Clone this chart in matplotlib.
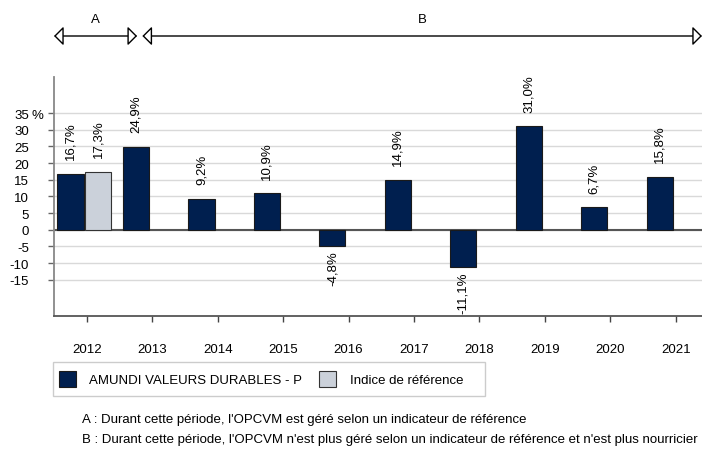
import matplotlib
matplotlib.use("Agg")
import matplotlib.pyplot as plt
from matplotlib import transforms
from matplotlib.patches import FancyArrowPatch, Rectangle, ArrowStyle
import numpy as np

# data
years = ["2012", "2013", "2014", "2015", "2016", "2017", "2018", "2019", "2020", "2021"]
fund = [16.7, 24.9, 9.2, 10.9, -4.8, 14.9, -11.1, 31.0, 6.7, 15.8]
bench = [17.3, None, None, None, None, None, None, None, None, None]
fund_name = "AMUNDI VALEURS DURABLES - P"
bench_name = "Indice de référence"
yticks = [-15, -10, -5, 0, 5, 10, 15, 20, 25, 30, 35]
periods = [("A", 0, 0), ("B", 1, 9)]
notes = [
    "A : Durant cette période, l'OPCVM est géré selon un indicateur de référence",
    "B : Durant cette période, l'OPCVM n'est plus géré selon un indicateur de référence et n'est plus nourricier",
]

DARK = "#001f4f"
LIGHT = "#cbd1da"
FS = 9.5
W, H = 702, 452

plt.rcParams["font.family"] = ["Liberation Sans", "DejaVu Sans"]
fig = plt.figure(figsize=(W / 100, H / 100), dpi=100)


def fx(x):
    return x / W


def fy(y):
    return 1 - y / H


ax = fig.add_axes([fx(54), fy(316.7), fx(W - 54), (316.7 - 78) / H])
x = np.arange(len(years))
xmin, xmax = -0.5, len(years) - 0.6

# bars
ax.bar(x - 0.247, fund, width=0.40, color=DARK, edgecolor="#1a1a1a", linewidth=0.8, zorder=3)
bx = [i for i, v in enumerate(bench) if v is not None]
bv = [v for v in bench if v is not None]
ax.bar(np.array(bx) + 0.177, bv, width=0.40, color=LIGHT, edgecolor="#333333", linewidth=0.8, zorder=3)


def fmt(v):
    return f"{v:.1f}%".replace(".", ",")


for xs, vals in [(x - 0.247, fund), (np.array(bx) + 0.177, bv)]:
    for xi, v in zip(xs, vals):
        if v >= 0:
            ax.annotate(fmt(v), (xi, v), xytext=(0, 10.5), textcoords="offset points",
                        rotation=90, ha="center", va="bottom", fontsize=FS)
        else:
            ax.annotate(fmt(v), (xi, v), xytext=(0, -3.6), textcoords="offset points",
                        rotation=90, ha="center", va="top", fontsize=FS)

ax.set_xlim(xmin, xmax)
ax.set_ylim(-25.8, 45.8)
ax.set_yticks(yticks)
ax.set_yticklabels([str(t) for t in yticks], fontsize=FS)
ax.set_xticks(x)
ax.set_xticklabels(years, fontsize=FS)
ax.tick_params(axis="y", direction="out", length=4.3, width=1, color="#666666", pad=13.7)
ax.tick_params(axis="x", direction="out", length=4.3, width=1, color="#444444", pad=15)
ax.annotate("%", xy=(0, 35), xycoords=("axes fraction", "data"), xytext=(-7.7, 0),
            textcoords="offset points", ha="right", va="center_baseline", fontsize=FS)

ax.yaxis.grid(True, color="#d9d9d9", linewidth=1, zorder=0)
ax.set_axisbelow(True)
ax.axhline(0, color="#555555", linewidth=1.5, zorder=2)
for s in ["top", "right"]:
    ax.spines[s].set_visible(False)
ax.spines["left"].set_color("#888888")
ax.spines["left"].set_linewidth(1.3)
ax.spines["bottom"].set_color("#555555")
ax.spines["bottom"].set_linewidth(1.3)

# period arrows above the plot
trans = transforms.blended_transform_factory(ax.transData, fig.transFigure)
style = ArrowStyle("<|-|>", head_length=0.58, head_width=0.58)
for label, first, last in periods:
    x0 = xmin if first == 0 else first - 0.15
    x1 = xmax if last == len(years) - 1 else last + 0.77
    arr = FancyArrowPatch((x0, fy(37)), (x1, fy(37)), transform=trans, arrowstyle=style,
                          mutation_scale=10, shrinkA=0, shrinkB=0, linewidth=1,
                          facecolor="white", edgecolor="black", clip_on=False)
    fig.add_artist(arr)
    ax.text((x0 + x1) / 2, fy(20), label, transform=trans, ha="center", va="center",
            fontsize=FS, clip_on=False)

# legend box
fig.add_artist(Rectangle((fx(53.3), fy(396.7)), fx(485 - 53.3), (396.7 - 362.7) / H,
                         transform=fig.transFigure, facecolor="white", edgecolor="#cccccc", linewidth=1))
fig.add_artist(Rectangle((fx(59.3), fy(388.3)), fx(16.7), 16.7 / H, transform=fig.transFigure,
                         facecolor=DARK, edgecolor="#1a1a1a", linewidth=0.8))
fig.text(fx(89.3), fy(381), fund_name, ha="left", va="center", fontsize=FS)
fig.add_artist(Rectangle((fx(319.3), fy(388.3)), fx(16.7), 16.7 / H, transform=fig.transFigure,
                         facecolor=LIGHT, edgecolor="#333333", linewidth=0.8))
fig.text(fx(350), fy(381), bench_name, ha="left", va="center", fontsize=FS)

# footnotes
for yy, note in zip([420, 440], notes):
    fig.text(fx(81.7), fy(yy), note, ha="left", va="center", fontsize=FS)

fig.savefig("out.png", dpi=100)
